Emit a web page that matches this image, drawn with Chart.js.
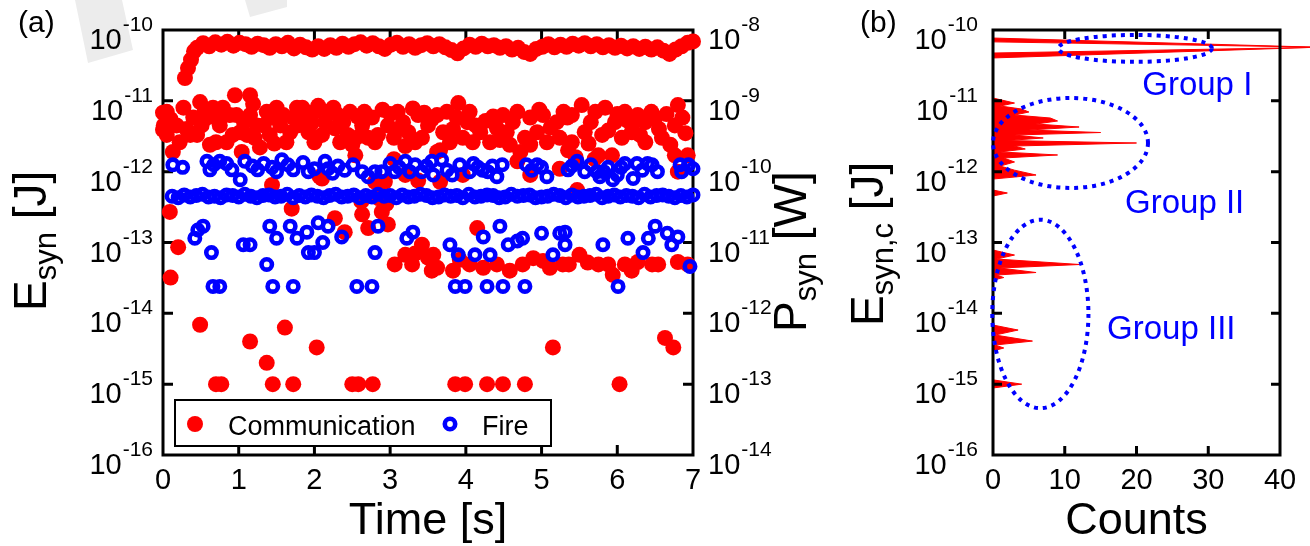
<!DOCTYPE html>
<html><head><meta charset="utf-8">
<script src="https://cdn.jsdelivr.net/npm/chart.js@4.4.1/dist/chart.umd.min.js"></script>
<style>
html,body{margin:0;padding:0;background:#fff;overflow:hidden;width:1310px;height:546px;}
#ca{position:absolute;left:0;top:0;}
#cb{position:absolute;left:840px;top:0;}
</style></head><body>
<canvas id="ca" width="830" height="546"></canvas>
<canvas id="cb" width="480" height="546"></canvas>
<script>
// ---------------- tick values ----------------
const timeTicks   = [0,1,2,3,4,5,6,7];
const energyTicks = [1e-16,1e-15,1e-14,1e-13,1e-12,1e-11,1e-10];
const powerTicks  = [1e-14,1e-13,1e-12,1e-11,1e-10,1e-9,1e-8];
const countTicks  = [0,10,20,30,40];

// ---------------- panel (a): [time s, E_syn J] ----------------
const commHighBand = [[0.29,2.1e-11],[0.33,2.9e-11],[0.37,3.8e-11],[0.41,5.0e-11],
[0.45,5.6e-11],[0.53,6.5e-11],[0.61,5.9e-11],[0.69,6.7e-11],[0.77,6.2e-11],[0.85,6.8e-11],[0.93,6.0e-11],[1.01,6.6e-11],[1.09,6.3e-11],[1.17,5.8e-11],[1.25,6.4e-11],[1.33,6.1e-11],[1.41,5.6e-11],[1.49,6.3e-11],[1.57,5.9e-11],[1.65,6.6e-11],[1.73,5.5e-11],[1.81,6.2e-11],[1.89,5.7e-11],[1.97,5.3e-11],[2.05,5.9e-11],[2.13,5.4e-11],[2.21,6.1e-11],[2.29,5.6e-11],[2.37,6.4e-11],[2.45,5.8e-11],[2.53,6.3e-11],[2.61,6.7e-11],[2.69,6.0e-11],[2.77,6.5e-11],[2.85,5.9e-11],[2.93,5.4e-11],[3.01,6.2e-11],[3.09,6.6e-11],[3.17,5.8e-11],[3.25,6.3e-11],[3.33,5.6e-11],[3.41,6.1e-11],[3.49,6.5e-11],[3.57,5.9e-11],[3.65,6.3e-11],[3.73,5.7e-11],[3.81,5.2e-11],[3.89,4.7e-11],[3.97,5.5e-11],[4.05,6.2e-11],[4.13,5.8e-11],[4.21,6.4e-11],[4.29,5.9e-11],[4.37,6.1e-11],[4.45,5.6e-11],[4.53,5.9e-11],[4.61,5.3e-11],[4.69,5.6e-11],[4.77,4.9e-11],[4.85,4.6e-11],[4.93,5.4e-11],[5.01,5.8e-11],[5.09,6.3e-11],[5.17,5.7e-11],[5.25,6.2e-11],[5.33,5.8e-11],[5.41,6.4e-11],[5.49,6.0e-11],[5.57,6.5e-11],[5.65,5.9e-11],[5.73,6.3e-11],[5.81,5.7e-11],[5.89,6.1e-11],[5.97,5.6e-11],[6.05,6.0e-11],[6.13,5.5e-11],[6.21,5.9e-11],[6.29,5.4e-11],[6.37,5.8e-11],[6.45,5.3e-11],[6.53,5.7e-11],[6.61,5.1e-11],[6.69,4.6e-11],[6.77,5.3e-11],[6.85,5.9e-11],[6.93,6.6e-11],[7.00,6.9e-11]];

const commMidBand = [[0.00,6.8e-12],[0.00,3.9e-12],[0.01,4.5e-12],[0.05,7.0e-12],[0.05,3.3e-12],[0.10,5.5e-12],[0.13,1.9e-12],[0.18,4.5e-12],[0.22,2.6e-12],[0.27,8.0e-12],[0.31,4.0e-12],[0.36,3.3e-12],[0.40,5.8e-12],[0.45,3.3e-12],[0.49,9.6e-12],[0.51,4.5e-12],[0.55,7.0e-12],[0.58,5.8e-12],[0.62,2.4e-12],[0.66,8.0e-12],[0.70,2.6e-12],[0.72,5.5e-12],[0.75,4.5e-12],[0.79,8.0e-12],[0.84,2.6e-12],[0.88,6.3e-12],[0.92,3.3e-12],[0.95,1.2e-11],[0.97,6.3e-12],[1.02,3.6e-12],[1.04,1.9e-12],[1.07,5.0e-12],[1.11,3.3e-12],[1.15,1.2e-11],[1.15,6.3e-12],[1.19,9.0e-12],[1.21,3.0e-12],[1.24,4.5e-12],[1.28,2.2e-12],[1.33,4.5e-12],[1.37,7.0e-12],[1.41,3.3e-12],[1.46,5.8e-12],[1.47,2.5e-12],[1.50,8.0e-12],[1.55,4.5e-12],[1.59,6.3e-12],[1.63,2.6e-12],[1.68,3.6e-12],[1.72,5.8e-12],[1.77,8.0e-12],
[1.78,4.5e-12],[1.84,8.0e-12],[1.88,5.5e-12],[1.92,3.6e-12],[1.96,4.8e-12],[2.00,7.0e-12],[2.00,2.6e-12],[2.05,8.5e-12],[2.10,3.3e-12],[2.14,5.0e-12],[2.18,7.0e-12],[2.25,8.0e-12],[2.27,4.1e-12],[2.31,6.3e-12],[2.34,2.6e-12],[2.38,5.0e-12],[2.44,3.3e-12],[2.47,7.0e-12],[2.50,2.4e-12],[2.52,2.8e-12],[2.57,6.0e-12],[2.60,3.2e-12],[2.63,4.5e-12],[2.66,7.0e-12],[2.71,3.0e-12],[2.76,5.8e-12],[2.80,2.6e-12],[2.84,3.3e-12],[2.90,7.5e-12],[2.97,4.5e-12],[3.00,6.5e-12],[3.05,3.0e-12],[3.10,7.0e-12],[3.13,4.0e-12],[3.17,5.0e-12],[3.20,2.3e-12],[3.24,3.6e-12],[3.30,7.8e-12],[3.33,2.6e-12],[3.37,6.3e-12],[3.42,3.0e-12],[3.45,6.8e-12],[3.50,4.5e-12],[3.55,5.5e-12],
[3.62,6.3e-12],[3.62,1.9e-12],[3.66,2.0e-12],[3.70,3.6e-12],[3.75,7.0e-12],[3.79,2.6e-12],[3.83,4.0e-12],[3.88,5.8e-12],[3.90,9.3e-12],[3.96,3.0e-12],[4.02,5.0e-12],[4.05,7.0e-12],[4.09,2.6e-12],[4.13,4.5e-12],[4.19,3.6e-12],[4.26,5.2e-12],[4.32,2.6e-12],[4.36,6.0e-12],[4.41,4.1e-12],[4.45,2.8e-12],[4.49,6.3e-12],[4.54,3.6e-12],[4.58,2.4e-12],[4.62,5.0e-12],[4.68,7.0e-12],[4.68,1.4e-12],[4.72,1.9e-12],[4.78,3.0e-12],[4.85,5.8e-12],[4.85,2.4e-12],[4.94,3.6e-12],[4.97,7.5e-12],[5.02,6.3e-12],[5.07,2.6e-12],[5.12,4.2e-12],[5.20,5.0e-12],[5.24,3.0e-12],[5.29,7.0e-12],[5.34,5.8e-12],
[5.35,2.0e-12],[5.40,6.3e-12],[5.40,2.6e-12],[5.45,1.6e-12],[5.53,8.7e-12],[5.57,3.6e-12],[5.62,2.5e-12],[5.65,5.0e-12],[5.70,1.5e-12],[5.71,7.0e-12],[5.75,1.7e-12],[5.80,3.3e-12],[5.84,8.0e-12],[5.88,3.8e-12],[5.93,1.7e-12],[5.97,5.0e-12],[6.00,6.5e-12],[6.06,3.0e-12],[6.10,7.0e-12],[6.14,5.2e-12],[6.19,3.6e-12],[6.20,4.8e-12],[6.27,6.3e-12],[6.30,3.3e-12],[6.37,5.0e-12],[6.37,2.6e-12],[6.45,7.0e-12],[6.50,5.8e-12],[6.55,4.0e-12],[6.59,3.0e-12],[6.65,6.5e-12],[6.70,2.4e-12],[6.76,4.5e-12],[6.76,1.7e-12],[6.80,8.7e-12],[6.86,5.8e-12],[6.90,3.5e-12],[6.93,1.7e-12]];

const commLowBand = [[0.09,2.7e-13],[0.10,3.2e-14],[0.20,8.6e-14],[1.44,6.5e-13],[1.70,3.0e-13],[2.07,8.5e-13],[2.10,8.0e-13],[2.27,2.2e-13],[2.40,1.4e-13],[2.54,1.7e-12],[2.62,3.8e-13],[2.63,2.5e-13],[2.71,1.6e-13],[2.80,7.2e-13],[2.85,4.2e-13],[2.89,2.7e-13],[2.93,7.2e-13],[2.95,3.5e-13],[2.97,1.8e-13],[3.05,1.5e-12],[3.06,4.9e-14],[3.20,9.0e-13],[3.20,6.7e-14],[3.29,4.9e-14],[3.33,7.0e-14],[3.37,7.5e-13],[3.42,9.3e-14],[3.50,6.1e-14],[3.55,4.0e-14],[3.57,6.7e-14],[3.62,4.4e-14],[3.66,7.2e-13],[3.83,4.0e-14],[3.92,5.7e-14],[3.96,9.0e-13],[4.05,4.9e-14],[4.15,1.6e-13],[4.23,4.4e-14],[4.41,4.9e-14],[4.58,4.0e-14],[4.75,4.9e-14],[4.85,9.0e-13],[4.89,6.0e-14],[5.02,5.5e-14],[5.11,4.4e-14],[5.24,1.1e-12],[5.28,4.9e-14],[5.36,4.9e-14],[5.47,5.5e-13],[5.50,6.7e-14],[5.61,5.2e-14],[5.75,4.9e-14],[5.88,4.9e-14],[5.94,3.5e-14],[6.10,4.9e-14],[6.19,4.0e-14],[6.27,5.3e-14],[6.46,4.9e-14],[6.54,4.9e-14],[6.80,1.0e-12],[6.80,5.3e-14],[6.93,4.9e-14]];

const commOutliers = [[0.49,6.9e-15],[0.70,1e-15],[0.77,1e-15],[1.15,4.0e-15],[1.37,2.0e-15],[1.45,1e-15],[1.61,6.3e-15],[1.72,1e-15],[2.03,3.3e-15],[2.50,1e-15],[2.58,1e-15],[2.77,1e-15],[3.86,1e-15],[3.99,1e-15],[4.28,1e-15],[4.49,1e-15],[4.78,1e-15],[5.15,3.3e-15],[6.03,1e-15],[6.63,4.5e-15],[6.74,3.3e-15]];

const fireUpper = [[0.13,1.25e-12],[0.26,1.15e-12],[0.58,1.4e-12],[0.62,1.06e-12],[0.67,1.25e-12],[0.75,1.4e-12],[0.84,1.3e-12],[0.91,1.06e-12],[1.02,7.7e-13],[1.08,1.4e-12],[1.18,1.2e-12],[1.25,1.06e-12],[1.33,1.3e-12],[1.44,1.15e-12],[1.50,1.0e-12],[1.57,1.47e-12],[1.65,1.25e-12],[1.72,1.06e-12],[1.85,1.35e-12],[1.92,1.0e-12],[2.00,1.1e-12],[2.14,1.4e-12],[2.18,1.1e-12],[2.24,9.5e-13],[2.31,1.2e-12],[2.40,1.05e-12],[2.51,1.25e-12],[2.63,1.0e-12],[2.71,8.5e-13],[2.80,1.0e-12],[2.89,1.0e-12],[3.00,1.3e-12],[3.06,1.0e-12],[3.12,1.15e-12],[3.20,1.4e-12],[3.26,1.0e-12],[3.33,1.25e-12],[3.42,1.0e-12],[3.48,1.2e-12],[3.55,1.4e-12],[3.57,9.0e-13],[3.68,1.47e-12],[3.75,1.05e-12],[3.82,9.0e-13],[3.92,1.25e-12],[4.05,1.0e-12],[4.10,1.3e-12],[4.16,1.15e-12],[4.22,1.05e-12],[4.29,1.0e-12],[4.35,1.2e-12],[4.41,8.5e-13],[4.48,1.25e-12],[4.80,1.25e-12],[4.87,1.05e-12],[4.94,1.25e-12],[5.00,1.15e-12],[5.07,8.5e-13],[5.35,1.06e-12],[5.40,1.2e-12],[5.47,1.4e-12],[5.57,1.0e-12],[5.65,1.25e-12],[5.73,1.0e-12],[5.77,8.5e-13],[5.82,1.0e-12],[5.88,1.15e-12],[5.94,7.7e-13],[6.00,9.0e-13],[6.05,1.15e-12],[6.10,1.3e-12],[6.21,8.0e-13],[6.26,1.3e-12],[6.33,1.05e-12],[6.40,1.3e-12],[6.46,1.25e-12],[6.53,1.0e-12],[6.83,1.25e-12],[6.85,1.0e-12],[6.94,1.25e-12],[7.00,1.1e-12]];

const fireBand = [[0.12,4.5e-13],[0.20,4.3e-13],[0.28,4.7e-13],[0.36,4.4e-13],[0.44,4.6e-13],[0.52,4.8e-13],[0.60,4.4e-13],[0.68,4.5e-13],[0.76,4.3e-13],[0.84,4.7e-13],[0.92,4.6e-13],[1.00,4.4e-13],[1.08,4.8e-13],[1.16,4.5e-13],[1.24,4.3e-13],[1.32,4.6e-13],[1.40,4.7e-13],[1.48,4.4e-13],[1.56,4.5e-13],[1.64,4.8e-13],[1.72,4.3e-13],[1.80,4.6e-13],[1.88,4.4e-13],[1.96,4.7e-13],[2.04,4.5e-13],[2.12,4.3e-13],[2.20,4.6e-13],[2.28,4.8e-13],[2.36,4.4e-13],[2.44,4.5e-13],[2.52,4.7e-13],[2.60,4.3e-13],[2.68,4.6e-13],[2.76,4.4e-13],[2.84,4.8e-13],[2.92,4.5e-13],[3.00,4.6e-13],[3.08,4.3e-13],[3.16,4.7e-13],[3.24,4.4e-13],[3.32,4.5e-13],[3.40,4.8e-13],[3.48,4.6e-13],[3.56,4.3e-13],[3.64,4.4e-13],[3.72,4.7e-13],[3.80,4.5e-13],[3.88,4.6e-13],[3.96,4.3e-13],[4.04,4.8e-13],[4.12,4.4e-13],[4.20,4.5e-13],[4.28,4.7e-13],[4.36,4.6e-13],[4.44,4.3e-13],[4.52,4.4e-13],[4.60,4.8e-13],[4.68,4.5e-13],[4.76,4.6e-13],[4.84,4.7e-13],[4.92,4.3e-13],[5.00,4.4e-13],[5.08,4.5e-13],[5.16,4.8e-13],[5.24,4.6e-13],[5.32,4.3e-13],[5.40,4.7e-13],[5.48,4.4e-13],[5.56,4.5e-13],[5.64,4.6e-13],[5.72,4.8e-13],[5.80,4.3e-13],[5.88,4.5e-13],[5.96,4.7e-13],[6.04,4.4e-13],[6.12,4.6e-13],[6.20,4.5e-13],[6.28,4.3e-13],[6.36,4.8e-13],[6.44,4.4e-13],[6.52,4.6e-13],[6.60,4.7e-13],[6.68,4.5e-13],[6.76,4.3e-13],[6.84,4.6e-13],[6.92,4.4e-13],[7.00,4.7e-13]];

const fireLower = [[0.42,1.15e-13],[0.46,1.5e-13],[0.53,1.7e-13],[0.64,7.2e-14],[0.66,2.4e-14],[0.75,2.4e-14],[1.06,9.3e-14],[1.15,9.3e-14],[1.37,4.9e-14],[1.41,1.7e-13],[1.45,2.4e-14],[1.50,1.15e-13],[1.68,1.7e-13],[1.72,2.4e-14],[1.77,1.15e-13],[1.90,1.4e-13],[1.92,7.2e-14],[2.00,7.2e-14],[2.05,1.9e-13],[2.11,1.0e-13],[2.18,1.7e-13],[2.36,1.2e-13],[2.56,2.4e-14],[2.76,2.4e-14],[2.80,7.2e-14],[2.84,1.7e-13],[3.22,1.15e-13],[3.30,1.4e-13],[3.79,9.3e-14],[3.86,2.4e-14],[3.90,6.7e-14],[3.99,2.4e-14],[4.12,6.7e-14],[4.23,1.2e-13],[4.28,2.4e-14],[4.32,6.7e-14],[4.45,1.7e-13],[4.49,2.4e-14],[4.56,9.3e-14],[4.68,1.05e-13],[4.75,1.15e-13],[4.78,2.4e-14],[5.00,1.35e-13],[5.15,6.7e-14],[5.24,1.35e-13],[5.31,9.3e-14],[5.31,1.4e-13],[5.81,9.3e-14],[6.01,2.4e-14],[6.14,1.15e-13],[6.34,7.2e-14],[6.41,1.15e-13],[6.50,1.7e-13],[6.66,1.35e-13],[6.72,9.3e-14],[6.80,1.2e-13],[6.96,4.6e-14]];

// ---------------- panel (b): histogram (E_syn,c J, counts) ----------------
const histEnergy = [7.7e-11,5.75e-11,6.8e-11,4.73e-11,5.67e-11,4.03e-11,
1.096e-11,9.31e-12,8.45e-12,7.66e-12,6.95e-12,6.30e-12,5.72e-12,5.19e-12,4.71e-12,4.27e-12,3.87e-12,3.57e-12,3.29e-12,2.99e-12,2.75e-12,2.54e-12,2.30e-12,2.09e-12,1.90e-12,1.72e-12,1.56e-12,1.37e-12,1.20e-12,1.05e-12,8.97e-13,7.87e-13,5.51e-13,5.00e-13,4.53e-13,
7.83e-14,6.65e-14,5.84e-14,4.89e-14,4.36e-14,3.77e-14,3.47e-14,3.20e-14,2.95e-14,6.84e-15,5.81e-15,4.94e-15,4.06e-15,3.57e-15,3.24e-15,2.94e-15,1.15e-15,1.00e-15,8.83e-16];
const histCounts = [0,44.2,0,0,44.2,0,
0,3,1,4,5,3,8,9,6,12,5,15,3,7,2,20,3,4.5,1,9,1.5,3,1,3,6,0,0,2,0,
0,3,0.5,12.1,1,6,0.5,1.5,0,0,3.5,0.3,5.5,0.3,1.5,0,0,4,0];

// group annotations (count / energy coordinates)
const groupNames   = ['Group I','Group II','Group III'];
const groupCenterCount  = [19.8, 10.8, 6.6];
const groupCenterEnergy = [5.5e-11, 2.54e-12, 9.8e-15];
const groupCountRadius  = [10.7, 10.8, 6.7];
const groupDecadeRadius = [0.19, 0.635, 1.33];
const groupTextCount    = [20.8, 18.4, 15.9];
const groupTextEnergy   = [1.21e-11, 2.61e-13, 4.34e-15];

// ---------------- helpers ----------------
const FAM = '"Liberation Sans", Arial, Helvetica, sans-serif';
const F = px => px + 'px ' + FAM;
const toXY = arr => arr.map(p => ({x: p[0], y: p[1]}));
const RED = '#ff0000', BLUE = '#0000ff';

function drawPow10(ctx, value, x, y, align) {
  const e = Math.round(Math.log10(value));
  const et = (e < 0 ? '-' : '') + Math.abs(e);
  ctx.font = F(29); const wb = ctx.measureText('10').width;
  ctx.font = F(21); const we = ctx.measureText(et).width;
  const x0 = align === 'right' ? x - wb - we : x;
  ctx.textAlign = 'left'; ctx.textBaseline = 'alphabetic'; ctx.fillStyle = '#000';
  ctx.font = F(29); ctx.fillText('10', x0, y + 19);
  ctx.font = F(21); ctx.fillText(et, x0 + wb + 1, y + 1);
}
function drawRotated(ctx, x, yStart, parts) {
  ctx.save(); ctx.translate(x, yStart); ctx.rotate(-Math.PI / 2);
  ctx.textAlign = 'left'; ctx.textBaseline = 'alphabetic'; ctx.fillStyle = '#000';
  let cx = 0;
  parts.forEach(p => { ctx.font = F(p[1]); ctx.fillText(p[0], cx, p[2]); cx += ctx.measureText(p[0]).width; });
  ctx.restore();
}
function drawFrame(chart, o) {
  const ctx = chart.ctx, xs = chart.scales.x, ys = chart.scales.y;
  const L = xs.getPixelForValue(o.xFrame[0]), R = xs.getPixelForValue(o.xFrame[1]);
  const T = ys.getPixelForValue(ys.max), B = ys.getPixelForValue(ys.min);
  ctx.save(); ctx.strokeStyle = '#000'; ctx.lineWidth = 3; ctx.lineCap = 'butt';
  ctx.strokeRect(L, T, R - L, B - T);
  ctx.beginPath();
  xs.ticks.forEach(t => { const px = xs.getPixelForValue(t.value); if (px < L + 2 || px > R - 2) return;
    ctx.moveTo(px, B); ctx.lineTo(px, B - o.tickLen); ctx.moveTo(px, T); ctx.lineTo(px, T + o.tickLen); });
  ys.ticks.forEach(t => { const py = ys.getPixelForValue(t.value); if (py < T + 2 || py > B - 2) return;
    ctx.moveTo(L, py); ctx.lineTo(L + o.tickLen, py);
    if (!o.rightScale) { ctx.moveTo(R, py); ctx.lineTo(R - o.tickLen, py); } });
  if (o.rightScale) { const rs = chart.scales[o.rightScale];
    rs.ticks.forEach(t => { const py = rs.getPixelForValue(t.value); if (py < T + 2 || py > B - 2) return;
      ctx.moveTo(R, py); ctx.lineTo(R - o.tickLen, py); }); }
  ctx.stroke(); ctx.restore();
}

const panelPlugin = {
  id: 'panel',
  beforeDraw(chart, a, o) {
    if (!o.watermark) return;
    const ctx = chart.ctx; ctx.save(); ctx.fillStyle = '#ececec';
    ctx.beginPath(); ctx.moveTo(75,0); ctx.lineTo(122,0); ctx.lineTo(133,50); ctx.lineTo(88,63); ctx.closePath(); ctx.fill();
    ctx.beginPath(); ctx.moveTo(245,0); ctx.lineTo(287,0); ctx.lineTo(287,7); ctx.lineTo(250,17); ctx.closePath(); ctx.fill();
    ctx.restore();
  },
  beforeDatasetsDraw(chart, a, o) { if (!o.frameOnTop) drawFrame(chart, o); },
  afterDatasetsDraw(chart, a, o) { if (o.frameOnTop) drawFrame(chart, o); },
  afterDraw(chart, a, o) {
    const ctx = chart.ctx, xs = chart.scales.x, ys = chart.scales.y;
    const L = xs.getPixelForValue(o.xFrame[0]), R = xs.getPixelForValue(o.xFrame[1]);
    ctx.save();
    ys.ticks.forEach(t => drawPow10(ctx, t.value, o.yLabelRight, ys.getPixelForValue(t.value), 'right'));
    if (o.rightScale) { const rs = chart.scales[o.rightScale];
      rs.ticks.forEach(t => drawPow10(ctx, t.value, R + 15, rs.getPixelForValue(t.value), 'left')); }
    ctx.font = F(29); ctx.textAlign = 'center'; ctx.fillStyle = '#000';
    xs.ticks.forEach(t => ctx.fillText(String(t.value), xs.getPixelForValue(t.value), 489));
    ctx.font = F(45); ctx.textAlign = 'center'; ctx.fillText(o.xTitle, (L + R) / 2, 534);
    drawRotated(ctx, o.yTitleX, o.yTitleStart, o.yTitle);
    if (o.y2Title) drawRotated(ctx, o.y2TitleX, o.y2TitleStart, o.y2Title);
    ctx.font = F(30); ctx.textAlign = 'left'; ctx.fillStyle = '#000'; ctx.fillText(o.panelLabel, o.panelLabelX, 32);
    if (o.legend) {
      const ds = chart.data.datasets;
      ctx.fillStyle = '#fff'; ctx.fillRect(175, 400, 376, 46);
      ctx.lineWidth = 2; ctx.strokeStyle = '#000'; ctx.strokeRect(175, 400, 376, 46);
      [[ds[0], 195, 228], [ds[1], 450, 482]].forEach(([d, mx, tx]) => {
        ctx.beginPath(); ctx.arc(mx, 424, d.pointRadius, 0, 2 * Math.PI);
        if (d.pointBorderWidth > 0) { ctx.lineWidth = d.pointBorderWidth; ctx.strokeStyle = d.pointBorderColor; ctx.stroke(); }
        else { ctx.fillStyle = d.pointBackgroundColor; ctx.fill(); }
        ctx.fillStyle = '#000'; ctx.font = F(27); ctx.textAlign = 'left'; ctx.fillText(d.label, tx, 435);
      });
    }
    if (o.groups) {
      ctx.strokeStyle = BLUE; ctx.lineWidth = 4; ctx.setLineDash([4, 5]);
      groupNames.forEach((name, i) => {
        const cx = xs.getPixelForValue(groupCenterCount[i]), cy = ys.getPixelForValue(groupCenterEnergy[i]);
        const rx = xs.getPixelForValue(groupCenterCount[i] + groupCountRadius[i]) - cx;
        const ry = cy - ys.getPixelForValue(groupCenterEnergy[i] * Math.pow(10, groupDecadeRadius[i]));
        ctx.beginPath(); ctx.ellipse(cx, cy, rx, ry, 0, 0, 2 * Math.PI); ctx.stroke();
      });
      ctx.setLineDash([]);
      ctx.fillStyle = BLUE; ctx.font = F(33); ctx.textAlign = 'left';
      groupNames.forEach((name, i) => ctx.fillText(name, xs.getPixelForValue(groupTextCount[i]), ys.getPixelForValue(groupTextEnergy[i])));
    }
    ctx.restore();
  }
};

const fixedTicks = arr => (s => { s.ticks = arr.map(v => ({value: v})); });
const hidden = {display: true, ticks: {display: false}, grid: {display: false}, border: {display: false}};

// ---------------- chart (a) ----------------
new Chart(document.getElementById('ca'), {
  type: 'scatter',
  data: { datasets: [
    { label: 'Communication', data: toXY([...commHighBand, ...commMidBand, ...commLowBand, ...commOutliers]),
      pointRadius: 8, pointBorderWidth: 0, pointBackgroundColor: RED, pointBorderColor: RED, order: 2, clip: false },
    { label: 'Fire', data: toXY([...fireUpper, ...fireBand, ...fireLower]),
      pointRadius: 5.2, pointBorderWidth: 4.6, pointBackgroundColor: 'rgba(0,0,0,0)', pointBorderColor: BLUE, order: 1, clip: false }
  ]},
  options: {
    responsive: false, animation: false, events: [],
    layout: {padding: {top: 30, left: 0, right: 0, bottom: 0}},
    scales: {
      x: {...hidden, type: 'linear', position: 'bottom', min: 0, max: 7, afterBuildTicks: fixedTicks(timeTicks), afterFit: s => { s.height = 91; }},
      y: {...hidden, type: 'logarithmic', position: 'left', min: 1e-16, max: 1e-10, afterBuildTicks: fixedTicks(energyTicks), afterFit: s => { s.width = 163; }},
      y2: {...hidden, type: 'logarithmic', position: 'right', min: 1e-14, max: 1e-8, afterBuildTicks: fixedTicks(powerTicks), afterFit: s => { s.width = 137; }}
    },
    plugins: {
      legend: {display: false}, tooltip: {enabled: false},
      panel: { xFrame: [0, 7], tickLen: 10, rightScale: 'y2', yLabelRight: 152, watermark: true,
        xTitle: 'Time [s]',
        yTitle: [['E', 46, 0], ['syn', 31, 10], [' [J]', 46, 0]], yTitleX: 46, yTitleStart: 311,
        y2Title: [['P', 46, 0], ['syn', 31, 10], [' [W]', 46, 0]], y2TitleX: 806, y2TitleStart: 332,
        panelLabel: '(a)', panelLabelX: 18, legend: true }
    }
  },
  plugins: [panelPlugin]
});

// ---------------- chart (b) ----------------
new Chart(document.getElementById('cb'), {
  type: 'line',
  data: { datasets: [{
    label: 'Counts', data: histEnergy.map((e, i) => ({x: histCounts[i], y: e})),
    borderColor: RED, backgroundColor: RED, borderWidth: 1, pointRadius: 0, tension: 0,
    fill: 'origin', clip: false, indexAxis: 'y'
  }]},
  options: {
    indexAxis: 'y', responsive: false, animation: false, events: [],
    layout: {padding: {top: 30, left: 0, right: 7.7, bottom: 0}},
    scales: {
      x: {...hidden, type: 'linear', position: 'bottom', min: 0, max: 44.5, afterBuildTicks: fixedTicks(countTicks), afterFit: s => { s.height = 91; }},
      y: {...hidden, type: 'logarithmic', position: 'left', min: 1e-16, max: 1e-10, afterBuildTicks: fixedTicks(energyTicks), afterFit: s => { s.width = 153; }}
    },
    plugins: {
      legend: {display: false}, tooltip: {enabled: false}, filler: {propagate: false},
      panel: { xFrame: [0, 40], tickLen: 9, yLabelRight: 137, frameOnTop: true,
        xTitle: 'Counts',
        yTitle: [['E', 46, 0], ['syn,c', 31, 10], [' [J]', 46, 0]], yTitleX: 43, yTitleStart: 326,
        panelLabel: '(b)', panelLabelX: 20, groups: true }
    }
  },
  plugins: [panelPlugin]
});
</script></body></html>
